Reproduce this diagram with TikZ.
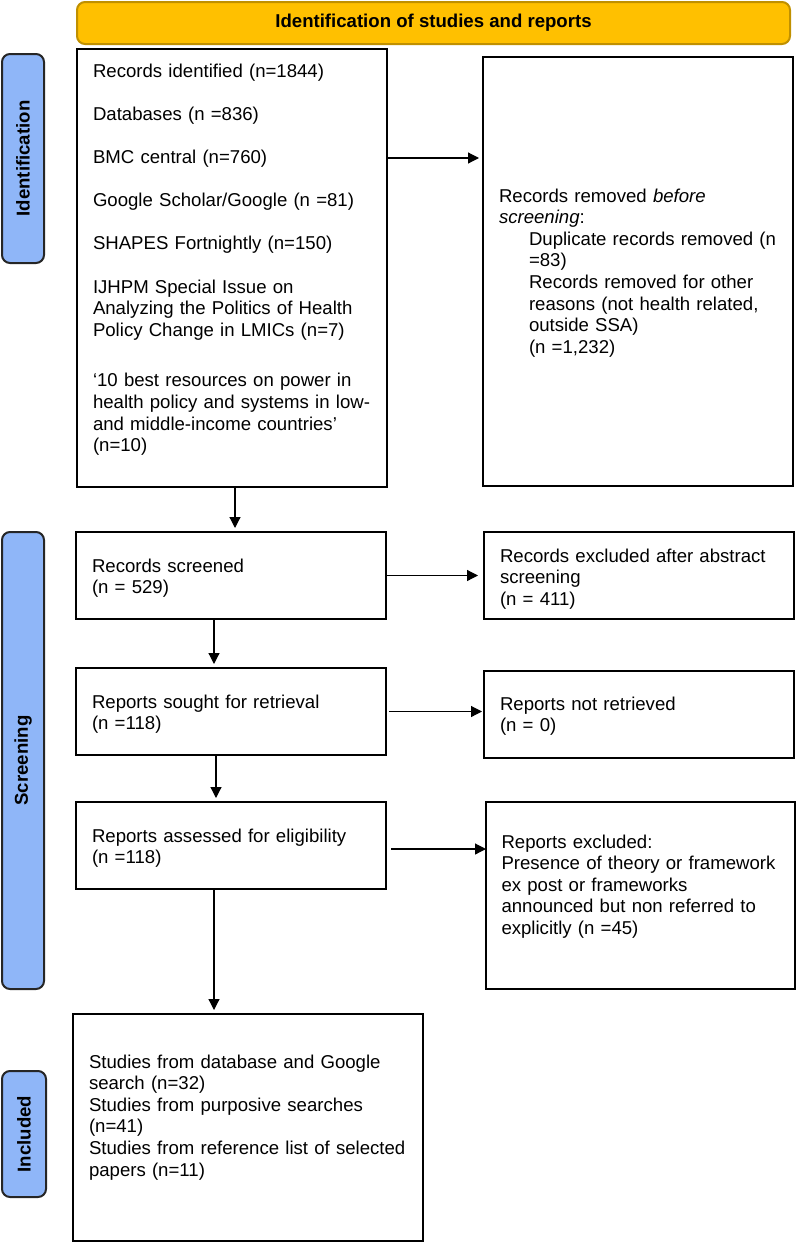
\documentclass[tikz,border=0pt]{standalone}
\usepackage{fontspec}
\setmainfont{Liberation Sans}
\usetikzlibrary{arrows.meta}
\definecolor{bannergold}{HTML}{FFC000}
\definecolor{bannerline}{HTML}{C09000}
\definecolor{laneblue}{HTML}{8FB6F8}
\newcommand\boxfont{\fontsize{18.6}{21.6}\selectfont}
\begin{document}
\begin{tikzpicture}[x=1pt, y=-1pt, >={Triangle[length=11pt,width=11pt]},
        box/.style={draw, line width=2pt, inner xsep=16pt, text width=278pt, align=left, font=\boxfont},
        firstline/.style={text height=0pt, text depth=#1},
        lane/.style={draw=black!85, line width=2pt, fill=laneblue, rounded corners=8pt, rotate=90, minimum height=42pt, inner sep=0pt, font=\boxfont\bfseries},
        flow/.style={->, line width=1.2pt, shorten >=3pt}]
        \useasboundingbox (0,0) rectangle (797,1242);
        % banner and side lanes
        \node[draw=bannerline, fill=bannergold, line width=2pt, rounded corners=8pt, minimum width=713pt, minimum height=42pt, inner sep=0pt, font=\boxfont\bfseries] (head) at (433.5,23) {Identification of studies and reports};
        \node[lane, minimum width=209pt] (laneid) at (23,158.5) {Identification};
        \node[lane, minimum width=457pt] (lanescr) at (23,760.5) {Screening};
        \node[lane, minimum width=126pt, minimum height=44pt] (laneinc) at (24,1134) {Included};
        % boxes
        \node[box, firstline=382pt, minimum height=438pt] (ident) at (232,268) {Records identified (n=1844)\\[21.6pt]
            Databases (n =836)\\[21.6pt]
            BMC central (n=760)\\[21.6pt]
            Google Scholar/Google (n =81)\\[21.6pt]
            SHAPES Fortnightly (n=150)\\[21.6pt]
            IJHPM Special Issue on\\ Analyzing the Politics of Health\\ Policy Change in LMICs (n=7)\\[29pt]
            ‘10 best resources on power in\\ health policy and systems in low-\\ and middle-income countries’\\ (n=10)};
        \node[box, firstline=139pt, minimum height=429pt] (removed) at (638,271.5) {Records removed \textit{before}\\ \textit{screening}:\\
            \hspace*{30pt}Duplicate records removed (n\\ \hspace*{30pt}=83)\\
            \hspace*{30pt}Records removed for other\\ \hspace*{30pt}reasons (not health related,\\ \hspace*{30pt}outside SSA)\\ \hspace*{30pt}(n =1,232)};
        \node[box, firstline=7pt, minimum height=87pt] (screened) at (231,575.5) {Records screened\\ (n = 529)};
        \node[box, firstline=27pt, minimum height=87pt] (excluded) at (639,575.5) {Records excluded after abstract\\ screening\\ (n = 411)};
        \node[box, firstline=7pt, minimum height=87pt] (sought) at (231,711.5) {Reports sought for retrieval\\ (n =118)};
        \node[box, firstline=9pt, minimum height=87pt] (notretr) at (639,714.5) {Reports not retrieved\\ (n = 0)};
        \node[box, firstline=7pt, minimum height=87pt] (assessed) at (231,845.5) {Reports assessed for eligibility\\ (n =118)};
        \node[box, firstline=95pt, minimum height=187pt, inner xsep=15.5pt] (reportsex) at (640.5,895.5) {Reports excluded:\\ Presence of theory or framework\\ ex post or frameworks\\ announced but non referred to\\ explicitly (n =45)};
        \node[box, firstline=119pt, minimum height=227pt, text width=318pt] (included) at (248,1127.5) {Studies from database and Google\\ search (n=32)\\ Studies from purposive searches\\ (n=41)\\ Studies from reference list of selected\\ papers (n=11)};
        % arrows
        \draw[flow] ([xshift=3pt]ident.south) -- ([xshift=3pt]ident.south |- screened.north);
        \draw[flow] ([xshift=-17pt]screened.south) -- ([xshift=-17pt]screened.south |- sought.north);
        \draw[flow] ([xshift=-15pt]sought.south) -- ([xshift=-15pt]sought.south |- assessed.north);
        \draw[flow] ([xshift=-17pt]assessed.south) -- ([xshift=-17pt]assessed.south |- included.north);
        \draw[flow] ([yshift=110pt]ident.east) -- ([yshift=110pt]ident.east -| removed.west);
        \draw[flow, shorten >=5pt] (screened.east) -- (excluded.west);
        \draw[flow] ([xshift=2pt]sought.east) -- ([xshift=2pt]sought.east -| notretr.west);
        \draw[flow] ([shift={(4pt,-3.5pt)}]assessed.east) -- ([shift={(4pt,-3.5pt)}]assessed.east -| reportsex.west);
\end{tikzpicture}
\end{document}
